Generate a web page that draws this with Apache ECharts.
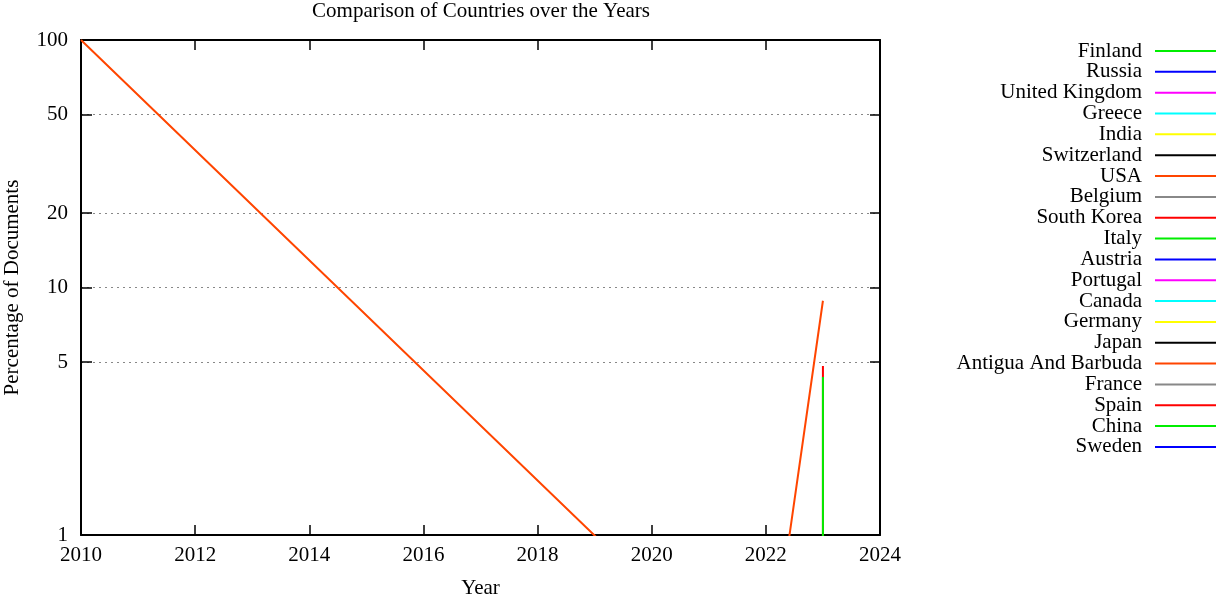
<!DOCTYPE html>
<html>
<head>
<meta charset="utf-8">
<script src="https://cdn.jsdelivr.net/npm/echarts@6/dist/echarts.min.js"></script>
<style>
html,body{margin:0;padding:0;background:#fff;}
#main{width:1216px;height:595px;}
</style>
</head>
<body>
<div id="main"></div>
<script>
// ---- data ----
const countries = ['Finland','Russia','United Kingdom','Greece','India','Switzerland','USA','Belgium','South Korea','Italy','Austria','Portugal','Canada','Germany','Japan','Antigua And Barbuda','France','Spain','China','Sweden'];
const palette = ['#00ee00','#0000ff','#ff00ff','#00ffff','#ffff00','#000000','#ff4500','#888888','#ff0000'];
const usaData = [[2010, 100], [2022, 0.214], [2023, 8.84]];
const spainData = [[2023, 0.001], [2023, 4.82]];
const chinaData = [[2023, 0.001], [2023, 4.35]];
const seriesData = { 'USA': usaData, 'Spain': spainData, 'China': chinaData };
const xTicks = [2010, 2012, 2014, 2016, 2018, 2020, 2022, 2024];
const yTicks = [1, 5, 10, 20, 50, 100];

const FONT = 'Liberation Serif';
const FS = 21;
const chart = echarts.init(document.getElementById('main'), null, {renderer: 'canvas'});

const series = countries.map((name, i) => ({
  name: name,
  type: 'line',
  data: seriesData[name] || [],
  symbol: 'none',
  showSymbol: false,
  clip: true,
  lineStyle: { width: 2, color: palette[i % palette.length] },
  itemStyle: { color: palette[i % palette.length] },
  emphasis: { disabled: true },
  xAxisIndex: 0, yAxisIndex: 0,
  z: 2 + i
}));

const option = {
  animation: false,
  backgroundColor: '#ffffff',
  title: {
    text: 'Comparison of Countries over the Years',
    left: 476, textAlign: 'center', top: -4,
    textStyle: { fontFamily: FONT, fontSize: FS, fontWeight: 'normal', color: '#000' }
  },
  grid: { left: 81, top: 40, right: 336, bottom: 60, show: false, containLabel: false, outerBoundsMode: 'none' },
  legend: {
    orient: 'vertical', right: 0, top: 40.5, padding: 0, itemGap: -0.16,
    align: 'right', icon: 'rect', itemWidth: 61, itemHeight: 2,
    selectedMode: false,
    data: countries,
    textStyle: { fontFamily: FONT, fontSize: FS, color: '#000', lineHeight: 21, padding: [0, 8, 0, 0] }
  },
  xAxis: [{
    type: 'value', min: 2010, max: 2024, interval: 2, position: 'bottom',
    name: 'Year', nameLocation: 'middle', nameGap: 43,
    nameTextStyle: { fontFamily: FONT, fontSize: FS, color: '#000' },
    axisLine: { show: true, lineStyle: { color: '#000', width: 2 } },
    axisTick: { show: true, inside: true, length: 10, lineStyle: { color: '#000', width: 1.5 } },
    axisLabel: { fontFamily: FONT, fontSize: FS, color: '#000', margin: 10, showMinLabel: true, showMaxLabel: true,
      formatter: v => String(v) },
    splitLine: { show: false }
  }, {
    type: 'value', min: 2010, max: 2024, interval: 2, position: 'top',
    axisLine: { show: true, onZero: false, lineStyle: { color: '#000', width: 2 } },
    axisTick: { show: true, inside: true, length: 10, lineStyle: { color: '#000', width: 1.5 } },
    axisLabel: { show: false },
    splitLine: { show: false }
  }],
  yAxis: [{
    type: 'log', logBase: 10, min: 1, max: 100, position: 'left',
    name: 'Percentage of Documents', nameLocation: 'middle', nameGap: 58, nameRotate: 90,
    nameTextStyle: { fontFamily: FONT, fontSize: FS, color: '#000' },
    axisLine: { show: true, lineStyle: { color: '#000', width: 2 } },
    axisTick: { show: true, inside: true, length: 11, customValues: yTicks, lineStyle: { color: '#000', width: 1.5 } },
    axisLabel: { fontFamily: FONT, fontSize: FS, color: '#000', margin: 13, customValues: yTicks,
      formatter: v => String(Math.round(v)) },
    minorTick: { show: false },
    splitLine: { show: true, lineStyle: { color: '#888', width: 1, type: [2, 4] } }
  }, {
    type: 'log', logBase: 10, min: 1, max: 100, position: 'right',
    axisLine: { show: true, lineStyle: { color: '#000', width: 2 } },
    axisTick: { show: true, inside: true, length: 10, customValues: yTicks, lineStyle: { color: '#000', width: 1.5 } },
    axisLabel: { show: false },
    splitLine: { show: false }
  }],
  series: series
};
chart.setOption(option);
</script>
</body>
</html>
